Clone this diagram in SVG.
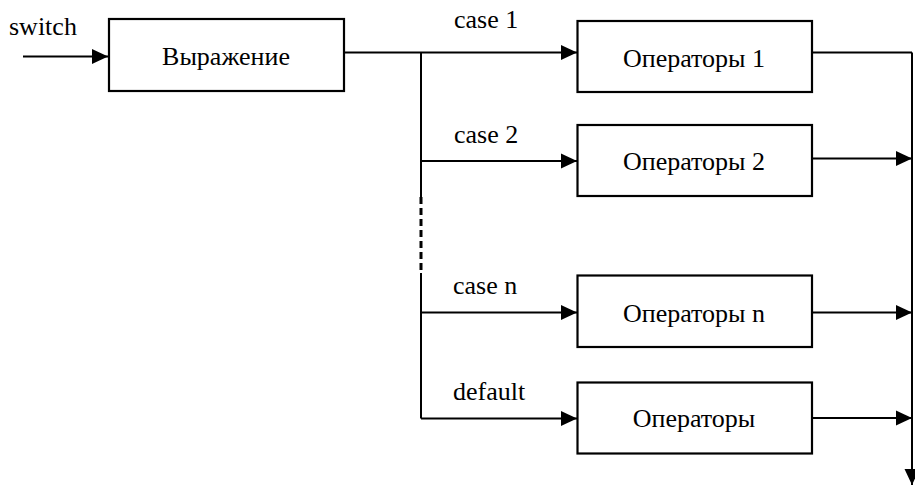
<svg xmlns="http://www.w3.org/2000/svg" width="915" height="485" viewBox="0 0 915 485">
  <defs>
    <style type="text/css">
      rect.box { fill: #ffffff; stroke: #000000; stroke-width: 2.2; }
      text.lbl { font-family: "Liberation Serif", "DejaVu Serif", serif; font-size: 26px; fill: #000000; }
      text.mid { text-anchor: middle; }
      path.wire { fill: none; stroke: #000000; stroke-width: 2; }
      path.dash { stroke-width: 3; stroke-dasharray: 7 4; }
    </style>
    <marker id="head" markerUnits="userSpaceOnUse" markerWidth="18" markerHeight="16" refX="16" refY="8" orient="auto" viewBox="0 0 18 16">
      <path d="M0,0.5 L16,8 L0,15.5 Z" fill="#000000"/>
    </marker>
  </defs>
  <rect width="915" height="485" fill="#ffffff"/>

  <!-- connectors -->
  <g id="connectors">
    <path class="wire" marker-end="url(#head)" d="M23,56.5 H108"/>
    <path class="wire" d="M344,52.5 H421"/>
    <path class="wire" marker-end="url(#head)" d="M421,52.5 H577"/>
    <path class="wire" d="M421,52.5 V197"/>
    <path class="wire dash" d="M421,197 V273"/>
    <path class="wire" d="M421,273 V418.5"/>
    <path class="wire" marker-end="url(#head)" d="M421,161 H577"/>
    <path class="wire" marker-end="url(#head)" d="M421,312.5 H577"/>
    <path class="wire" marker-end="url(#head)" d="M421,418.5 H577"/>
    <path class="wire" d="M812,52.5 H912"/>
    <path class="wire" marker-end="url(#head)" d="M912,52.5 V485"/>
    <path class="wire" marker-end="url(#head)" d="M812,158.5 H912"/>
    <path class="wire" marker-end="url(#head)" d="M812,312.5 H912"/>
    <path class="wire" marker-end="url(#head)" d="M812,418 H912"/>
  </g>

  <!-- edge labels -->
  <g id="labels">
    <text class="lbl" x="9" y="35">switch</text>
    <text class="lbl" x="454" y="28">case 1</text>
    <text class="lbl" x="454" y="143">case 2</text>
    <text class="lbl" x="453" y="294">case n</text>
    <text class="lbl" x="453" y="400">default</text>
  </g>

  <g id="expr">
    <rect class="box" x="109" y="19" width="235" height="72"/>
    <text class="lbl mid" x="226" y="65">Выражение</text>
  </g>
  <g id="ops1">
    <rect class="box" x="577.5" y="21" width="234.5" height="71"/>
    <text class="lbl mid" x="694" y="66.5">Операторы 1</text>
  </g>
  <g id="ops2">
    <rect class="box" x="577.5" y="125" width="234.5" height="71"/>
    <text class="lbl mid" x="694" y="170">Операторы 2</text>
  </g>
  <g id="opsn">
    <rect class="box" x="577.5" y="275.5" width="234.5" height="71.5"/>
    <text class="lbl mid" x="694" y="321.5">Операторы n</text>
  </g>
  <g id="opsdefault">
    <rect class="box" x="577.5" y="382.5" width="234.5" height="71"/>
    <text class="lbl mid" x="694" y="427">Операторы</text>
  </g>
</svg>
